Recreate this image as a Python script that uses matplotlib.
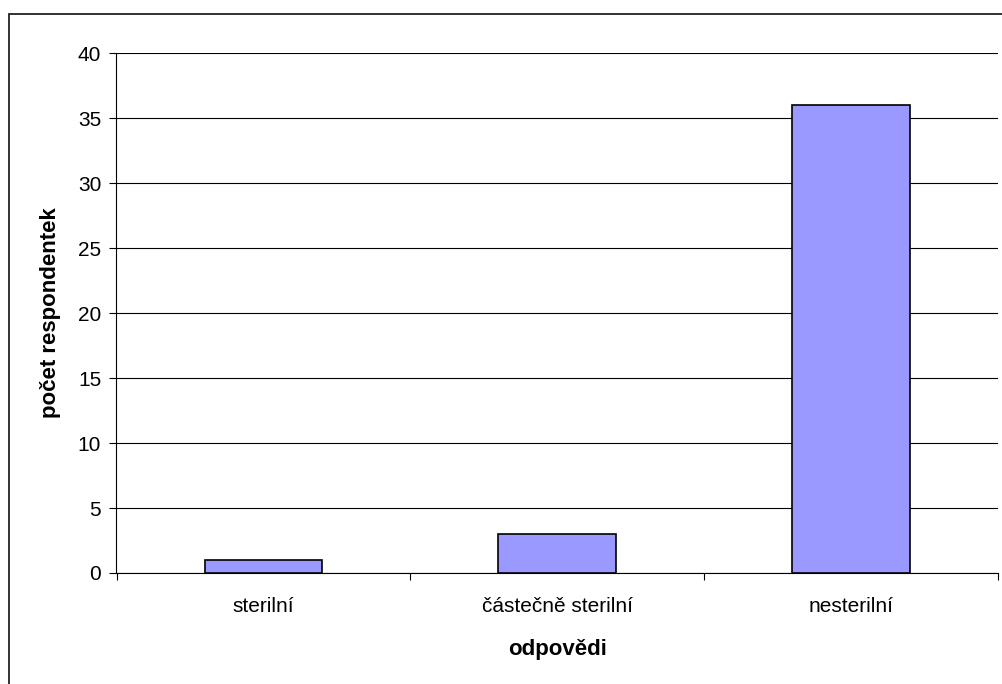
import matplotlib
matplotlib.use('Agg')
import matplotlib.pyplot as plt
from matplotlib.patches import Rectangle

# data
categories = ["sterilní", "částečně sterilní", "nesterilní"]
counts = [1, 3, 36]
y_ticks = [0, 5, 10, 15, 20, 25, 30, 35, 40]

plt.rcParams['font.family'] = ['Liberation Sans', 'DejaVu Sans']

W, H = 1003, 684
fig = plt.figure(figsize=(W / 100, H / 100), dpi=100)

# outer chart border (only top/left edges fall inside the picture)
fig.patches.append(Rectangle((9 / W, -0.1), 1.2, 1 - 14 / H + 0.1,
                             transform=fig.transFigure, fill=False,
                             edgecolor='#222222', linewidth=1.3))

ax = fig.add_axes([116.5 / W, 1 - 573 / H, (998 - 116.5) / W, (573 - 53) / H])

x = list(range(len(categories)))
ax.bar(x, counts, width=0.4, color='#9999ff', edgecolor='black',
       linewidth=1.2, zorder=3)

ax.set_xlim(-0.5, len(categories) - 0.5)
ax.set_ylim(0, 40)
ax.set_yticks(y_ticks)
ax.yaxis.grid(True, color='black', linewidth=0.8, zorder=0)
ax.set_axisbelow(True)

ax.set_xticks(x)
ax.set_xticklabels(categories)
ax.set_xticks([i + 0.5 for i in range(-1, len(categories))], minor=True)
ax.tick_params(axis='x', which='major', length=0, pad=17, labelsize=15)
ax.tick_params(axis='x', which='minor', length=5, width=0.8, direction='out')
ax.tick_params(axis='y', length=5, width=0.8, direction='out', pad=6,
               labelsize=15)

for s in ['top', 'right']:
    ax.spines[s].set_visible(False)
for s in ['left', 'bottom']:
    ax.spines[s].set_linewidth(0.8)

ax.set_xlabel("odpovědi", fontsize=16, fontweight='bold', labelpad=17)
ax.set_ylabel("počet respondentek", fontsize=16, fontweight='bold',
              labelpad=12)

fig.savefig("out.png", dpi=100)
